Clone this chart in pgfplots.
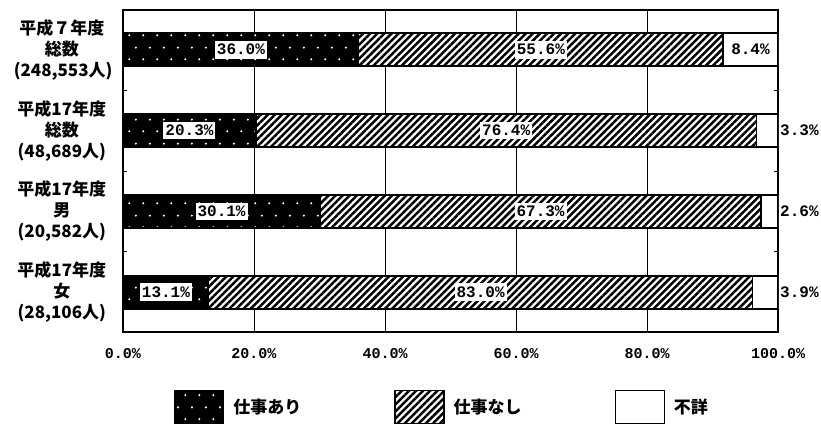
\documentclass[border=0pt]{standalone}
\usepackage{fontspec}
\setmainfont{Liberation Serif}
\newfontfamily\cjk{Noto Sans CJK JP}
\newfontfamily\numfont{Liberation Mono}
\usepackage{pgfplots}
\pgfplotsset{compat=1.18}
\usetikzlibrary{patterns,patterns.meta}

\tikzdeclarepattern{
  name=sparsedots,
  type=uncolored,
  bottom left={(0pt,0pt)},
  top right={(14pt,24pt)},
  tile size={(14pt,24pt)},
  code={
    \fill (3.5pt,6pt) circle (1.2pt);
    \fill (10.5pt,18pt) circle (1.2pt);
  }
}

\begin{document}
\begin{tikzpicture}
\useasboundingbox (0,0) rectangle (821pt,-425pt);
\begin{axis}[
  at={(123pt,-10pt)}, anchor=north west,
  scale only axis, width=655pt, height=322pt,
  xbar stacked, bar width=33pt,
  xmin=0, xmax=100, ymin=-0.49, ymax=3.49, y dir=reverse,
  axis line style={line width=1.2pt},
  xtick={0,20,40,60,80,100},
  xticklabels={0.0\%,20.0\%,40.0\%,60.0\%,80.0\%,100.0\%},
  ytick={0,1,2,3},
  yticklabels={{平成７年度\\総数\\(248,553人)},{平成17年度\\総数\\(48,689人)},{平成17年度\\男\\(20,582人)},{平成17年度\\女\\(28,106人)}},
  major tick length=0pt,
  xmajorgrids, grid style={black, line width=1pt},
  xticklabel style={font=\numfont\bfseries\fontsize{15}{15}\selectfont, anchor=base, yshift=-26pt, inner sep=0pt},
  yticklabel style={font=\cjk\bfseries\fontsize{17}{21}\selectfont, align=center, text width=96pt, inner sep=0pt, xshift=-13pt},
  extra y ticks={0.5,1.5,2.5}, extra y tick labels={},
  extra y tick style={major tick length=4pt, tick style={black, line width=1pt}},
  legend image code/.code={\draw[#1] (0pt,-16.5pt) rectangle (49pt,16.5pt);},
  legend style={draw=none, fill=none, inner sep=0pt, outer sep=0pt,
    at={(0.0779,-0.1801)}, anchor=north west,
    font=\cjk\bfseries\fontsize{17}{17}\selectfont,
    nodes={inner sep=0pt},
    /tikz/every odd column/.append style={column sep=9pt},
    /tikz/every even column/.append style={column sep=0pt}},
  legend columns=3,
]
\addplot[draw=black, line width=1.3pt, fill=black, postaction={pattern=sparsedots, pattern color=white}]
  coordinates {(36.0,0) (20.3,1) (30.1,2) (13.1,3)};
\addlegendentry{\makebox[161pt][l]{仕事あり}}
\addplot[draw=black, line width=1.3pt, fill=white, postaction={pattern={Lines[angle=45,distance=5pt,line width=2.5pt]}}]
  coordinates {(55.6,0) (76.4,1) (67.3,2) (83.0,3)};
\addlegendentry{\makebox[161pt][l]{仕事なし}}
\addplot[draw=black, line width=1.3pt, fill=white]
  coordinates {(8.4,0) (3.3,1) (2.6,2) (3.9,3)};
\addlegendentry{\makebox[161pt][l]{不詳}}
\end{axis}
\begin{axis}[
  at={(123pt,-10pt)}, anchor=north west,
  scale only axis, width=655pt, height=322pt,
  xmin=0, xmax=100, ymin=-0.49, ymax=3.49, y dir=reverse,
  hide axis, clip=false,
]
\addplot[draw=none, mark=none, nodes near coords, point meta=explicit symbolic,
  every node near coord/.append style={anchor=center, fill=white, inner xsep=2pt, inner ysep=3.5pt, font=\numfont\bfseries\fontsize{16}{16}\selectfont}]
  coordinates {(18.0,0) [36.0\%] (63.8,0) [55.6\%] (95.8,0) [8.4\%]
               (10.15,1) [20.3\%] (58.5,1) [76.4\%]
               (15.05,2) [30.1\%] (63.75,2) [67.3\%]
               (6.55,3) [13.1\%] (54.6,3) [83.0\%]};
\addplot[draw=none, mark=none, nodes near coords, point meta=explicit symbolic,
  every node near coord/.append style={anchor=west, xshift=2pt, inner sep=0pt, font=\numfont\bfseries\fontsize{16}{16}\selectfont}]
  coordinates {(100,1) [3.3\%] (100,2) [2.6\%] (100,3) [3.9\%]};
\end{axis}
\end{tikzpicture}
\end{document}
